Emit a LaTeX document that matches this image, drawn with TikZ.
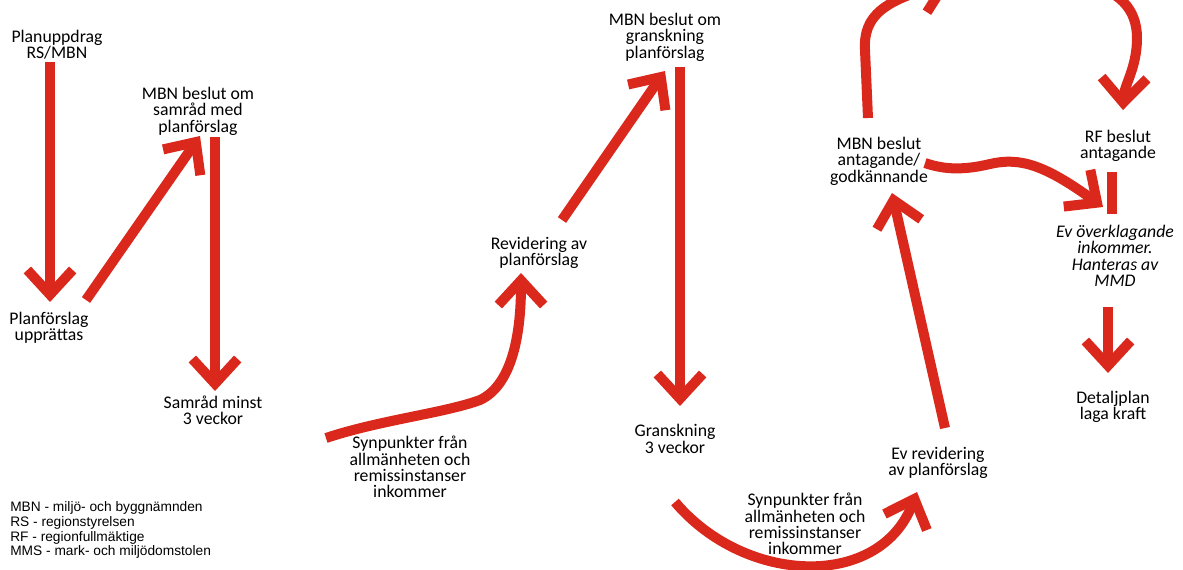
\documentclass[tikz,border=0pt]{standalone}
\usepackage{fontspec}
\setmainfont{Carlito}
\newfontfamily\legendfont{Liberation Sans}
\usetikzlibrary{arrows.meta}
\definecolor{flowred}{RGB}{218,41,28}
\begin{document}
\begin{tikzpicture}[x=0.75pt,y=-0.75pt,
  lbl/.style={align=center, inner sep=0pt, font=\fontsize{13.3}{12.3}\selectfont},
  ilbl/.style={align=center, inner sep=0pt, font=\fontsize{13.3}{12.3}\selectfont\itshape},
  legend/.style={align=left, inner sep=0pt, anchor=west, font=\legendfont\fontsize{10.3}{11.2}\selectfont},
  flow/.style={draw=flowred, line width=7.5pt, line cap=butt, line join=miter,
    -{Straight Barb[length=18.5pt,width=34pt,sharp]}},
  redbar/.style={draw=flowred, line width=7.5pt, line cap=butt}]
\useasboundingbox (0,0) rectangle (1183,569);
\clip (0,0) rectangle (1183,569);
% labels
\node[lbl] (plan) at (57,45) {Planuppdrag\\RS/MBN};
\node[lbl] (upp) at (49,328) {Planförslag\\upprättas};
\node[lbl] (samb) at (198,111) {MBN beslut om\\samråd med\\planförslag};
\node[lbl] (samr) at (213,410) {Samråd minst\\3 veckor};
\node[lbl] (syn1) at (410,467) {Synpunkter från\\allmänheten och\\remissinstanser\\inkommer};
\node[lbl] (rev) at (539,253) {Revidering av\\planförslag};
\node[lbl] (grb) at (665,37) {MBN beslut om\\granskning\\planförslag};
\node[lbl] (gr) at (675,439) {Granskning\\3 veckor};
\node[lbl] (syn2) at (805,524) {Synpunkter från\\allmänheten och\\remissinstanser\\inkommer};
\node[lbl] (evrev) at (938,463) {Ev revidering\\av planförslag};
\node[lbl] (ant) at (879,161) {MBN beslut\\antagande/\\godkännande};
\node[lbl] (rf) at (1118,146) {RF beslut\\antagande};
\node[ilbl] (overk) at (1115,256) {Ev överklagande\\inkommer.\\Hanteras av\\MMD};
\node[lbl] (det) at (1113,407) {Detaljplan\\laga kraft};
\node[legend] (leg) at (10,530) {MBN - miljö- och byggnämnden\\RS - regionstyrelsen\\RF - regionfullmäktige\\MMS - mark- och miljödomstolen};
% connector end points
\coordinate (plan-s) at (50,62);   \coordinate (upp-n) at (50,302);
\coordinate (upp-e) at (86,300);   \coordinate (samb-s) at (200,136);
\coordinate (samb-o) at (215,137); \coordinate (samr-n) at (215,391);
\coordinate (syn1-e) at (326,438); \coordinate (rev-s) at (521,273);
\coordinate (rev-e) at (562,220);  \coordinate (grb-s) at (665,71);
\coordinate (grb-o) at (680,67);   \coordinate (gr-n) at (680,406);
\coordinate (gr-s) at (675,502);   \coordinate (evrev-s) at (917,492);
\coordinate (evrev-n) at (945,428);\coordinate (ant-s) at (892,193);
\coordinate (ant-n) at (868,118);  \coordinate (topL) at (952,-18);
\coordinate (topR) at (1085,-16);  \coordinate (rf-n) at (1123,110);
\coordinate (ant-e) at (925,163);  \coordinate (overk-n) at (1103,207);
\coordinate (rf-s) at (1112,172);  \coordinate (rf-b) at (1112,214);
\coordinate (overk-s) at (1108,307); \coordinate (det-n) at (1108,373);
% connectors
\draw[flow] (plan-s) -- (upp-n);
\draw[flow] (upp-e) -- (samb-s);
\draw[flow] (samb-o) -- (samr-n);
\draw[flow] (syn1-e) .. controls (380,420) and (445,413) .. (480,400)
  .. controls (510,386) and (521,340) .. (rev-s);
\draw[flow] (rev-e) -- (grb-s);
\draw[flow] (grb-o) -- (gr-n);
\draw[flow] (gr-s) .. controls (745,585) and (880,590) .. (evrev-s);
\draw[flow] (evrev-n) -- (ant-s);
\draw[flow] (ant-n) -- (865,50) .. controls (863,15) and (885,0) .. (topL);
\draw[flow] (topR) .. controls (1118,-10) and (1137,8) .. (1137,38)
  .. controls (1137,68) and (1124,85) .. (rf-n);
\draw[flow] (ant-e) .. controls (945,170) and (965,170) .. (990,164)
  .. controls (1020,157) and (1045,165) .. (overk-n);
\draw[redbar] (rf-s) -- (rf-b);
\draw[flow] (overk-s) -- (det-n);
\end{tikzpicture}
\end{document}
